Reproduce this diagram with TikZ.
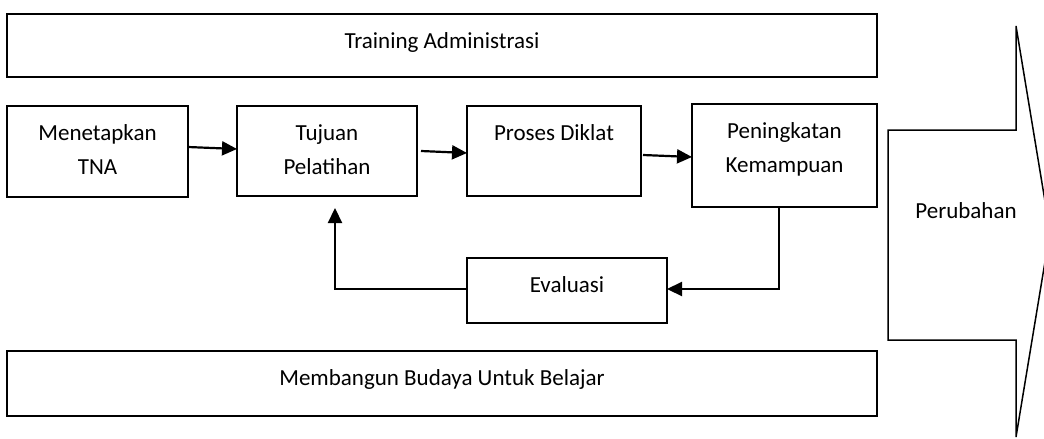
\documentclass[tikz,border=0pt]{standalone}
\usepackage{fontspec}
\setmainfont{Carlito}
\usetikzlibrary{arrows.meta}
\newcommand\bxt[3]{\parbox[t][#2][t]{#1}{\centering\rule{0pt}{34pt}#3}}
\begin{document}
\begin{tikzpicture}[x=1pt,y=-1pt,
  boxstyle/.style={draw, line width=1.8pt, inner sep=0pt, outer sep=0pt, anchor=north west,
    font=\fontsize{23}{34.5}\selectfont},
  conn/.style={line width=2.2pt, -{Triangle[length=15pt,width=14pt]}},
  bigarrow/.style={draw, line width=1.5pt}]
\useasboundingbox (0,0) rectangle (1044,439);
\fill[white] (0,0) rectangle (1044,439);
\clip (0,0) rectangle (1044,439);
\node[boxstyle] (top) at (7,14) {\bxt{870pt}{63pt}{Training Administrasi}};
\node[boxstyle] (m) at (7,106) {\bxt{181pt}{91pt}{Menetapkan\\TNA}};
\node[boxstyle] (t) at (237,106) {\bxt{180pt}{90pt}{Tujuan\\Pelatihan}};
\node[boxstyle] (p) at (467,106) {\bxt{174pt}{90pt}{Proses Diklat}};
\node[boxstyle] (k) at (692,104) {\bxt{185pt}{103pt}{Peningkatan\\Kemampuan}};
\node[boxstyle] (e) at (467,258) {\bxt{200pt}{65pt}{Evaluasi}};
\node[boxstyle] (bot) at (7,351) {\bxt{870pt}{65pt}{Membangun Budaya Untuk Belajar}};
\draw[bigarrow] (888,130) -- (1016,130) -- (1016,26) -- (1050,231.5) -- (1016,437) -- (1016,340) -- (888,340) -- cycle;
\node[font=\fontsize{23}{34.5}\selectfont, anchor=base, inner sep=0pt] (ch) at (966,218) {Perubahan};
\draw[conn] ([yshift=4.5pt]m.east) -- ([yshift=2pt]t.west);
\draw[conn] ([xshift=4pt]t.east) -- ([yshift=-2pt]p.west);
\draw[conn] ([xshift=2pt,yshift=-4pt]p.east) -- ([yshift=-1.5pt]k.west);
\draw[conn] ([xshift=-5.5pt]k.south) |- ([yshift=1.5pt]e.east);
\coordinate (fb) at ([xshift=8pt,yshift=-12pt]t.south);
\draw[conn] ([yshift=1.5pt]e.west) -| (fb);
\end{tikzpicture}
\end{document}
